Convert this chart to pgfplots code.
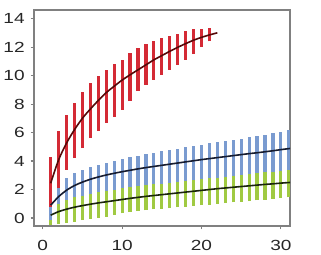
\documentclass[border=0pt]{standalone}
\usepackage{pgfplots}
\pgfplotsset{compat=1.18}
\usepackage{pgfplotstable}
\usepackage{fontspec}
\setmainfont{Liberation Sans}
\definecolor{rbar}{HTML}{D42A35}
\definecolor{bbar}{HTML}{7A9BD0}
\definecolor{gbar}{HTML}{A0CA42}
\definecolor{rcur}{HTML}{560808}
\definecolor{bcur}{HTML}{161C30}
\definecolor{gcur}{HTML}{1A250C}
\definecolor{axgray}{HTML}{808080}

% error bars: each bar is a pair of rows (x lo, x hi) followed by a break
\pgfplotstableread{
x y
1 0.8
1 4.3
1 nan
2 2.1
2 6.1
2 nan
3 3.4
3 7.25
3 nan
4 4.2
4 8.1
4 nan
5 4.9
5 8.85
5 nan
6 5.6
6 9.45
6 nan
7 6.1
7 9.95
7 nan
8 6.7
8 10.4
8 nan
9 7.1
9 10.8
9 nan
10 7.6
10 11.1
10 nan
11 8.2
11 11.6
11 nan
12 8.9
12 11.95
12 nan
13 9.35
13 12.2
13 nan
14 9.7
14 12.4
14 nan
15 10.05
15 12.6
15 nan
16 10.4
16 12.8
16 nan
17 10.75
17 12.95
17 nan
18 11.1
18 13.1
18 nan
19 11.5
19 13.25
19 nan
20 12.0
20 13.3
20 nan
21 12.4
21 13.35
}\redbars

\pgfplotstableread{
x y
1 2.44
2 4.08
3 5.26
4 6.2
5 7.0
6 7.65
7 8.25
8 8.8
9 9.25
10 9.68
11 10.05
12 10.4
13 10.75
14 11.1
15 11.4
16 11.7
17 11.98
18 12.24
19 12.48
20 12.68
21 12.85
22 13.0
}\redcurve

\pgfplotstableread{
x y
1 -0.14
1 1.5
1 nan
2 0.95
2 2.3
2 nan
3 1.3
3 2.8
3 nan
4 1.45
4 3.15
4 nan
5 1.58
5 3.38
5 nan
6 1.7
6 3.57
6 nan
7 1.8
7 3.72
7 nan
8 1.9
8 3.87
8 nan
9 2.0
9 4.0
9 nan
10 2.08
10 4.13
10 nan
11 2.16
11 4.25
11 nan
12 2.24
12 4.37
12 nan
13 2.3
13 4.48
13 nan
14 2.36
14 4.58
14 nan
15 2.42
15 4.67
15 nan
16 2.48
16 4.76
16 nan
17 2.54
17 4.85
17 nan
18 2.6
18 4.95
18 nan
19 2.66
19 5.05
19 nan
20 2.72
20 5.15
20 nan
21 2.78
21 5.25
21 nan
22 2.84
22 5.33
22 nan
23 2.9
23 5.42
23 nan
24 2.96
24 5.5
24 nan
25 3.02
25 5.58
25 nan
26 3.08
26 5.66
26 nan
27 3.14
27 5.75
27 nan
28 3.2
28 5.85
28 nan
29 3.26
29 5.95
29 nan
30 3.32
30 6.05
30 nan
31 3.38
31 6.15
}\bluebars

\pgfplotstableread{
x y
1 0.9
2 1.5
3 1.95
4 2.28
5 2.52
6 2.72
7 2.88
8 3.02
9 3.14
10 3.25
11 3.35
12 3.45
13 3.54
14 3.62
15 3.7
16 3.78
17 3.86
18 3.94
19 4.02
20 4.1
21 4.17
22 4.24
23 4.31
24 4.38
25 4.45
26 4.52
27 4.58
28 4.65
29 4.72
30 4.8
31 4.87
32 4.94
}\bluecurve

\pgfplotstableread{
x y
1 -0.5
1 -0.14
1 nan
2 -0.42
2 0.95
2 nan
3 -0.35
3 1.3
3 nan
4 -0.26
4 1.45
4 nan
5 -0.15
5 1.58
5 nan
6 -0.06
6 1.7
6 nan
7 0.02
7 1.8
7 nan
8 0.1
8 1.9
8 nan
9 0.2
9 2.0
9 nan
10 0.32
10 2.08
10 nan
11 0.42
11 2.16
11 nan
12 0.48
12 2.24
12 nan
13 0.54
13 2.3
13 nan
14 0.6
14 2.36
14 nan
15 0.65
15 2.42
15 nan
16 0.7
16 2.48
16 nan
17 0.75
17 2.54
17 nan
18 0.8
18 2.6
18 nan
19 0.85
19 2.66
19 nan
20 0.9
20 2.72
20 nan
21 0.94
21 2.78
21 nan
22 0.99
22 2.84
22 nan
23 1.04
23 2.9
23 nan
24 1.09
24 2.96
24 nan
25 1.14
25 3.02
25 nan
26 1.19
26 3.08
26 nan
27 1.24
27 3.14
27 nan
28 1.29
28 3.2
28 nan
29 1.34
29 3.26
29 nan
30 1.4
30 3.32
30 nan
31 1.45
31 3.38
}\greenbars

\pgfplotstableread{
x y
1 0.2
2 0.45
3 0.62
4 0.76
5 0.87
6 0.97
7 1.06
8 1.14
9 1.22
10 1.3
11 1.38
12 1.45
13 1.52
14 1.58
15 1.64
16 1.7
17 1.76
18 1.82
19 1.88
20 1.94
21 2.0
22 2.06
23 2.11
24 2.16
25 2.21
26 2.26
27 2.31
28 2.36
29 2.4
30 2.45
31 2.49
32 2.53
}\greencurve

\begin{document}
\begin{tikzpicture}
\useasboundingbox (-25.5pt,-21pt) rectangle (215.25pt,169.5pt);
\begin{axis}[
  at={(0,0)}, anchor=south west,
  scale only axis, width=192pt, height=162pt,
  xmin=-1.1, xmax=31.15, ymin=-0.56, ymax=14.6,
  xtick={0,10,20,30}, ytick={0,2,4,6,8,10,12,14},
  tick align=outside, xtick pos=bottom, ytick pos=left,
  major tick length=2.5pt,
  axis line style={axgray, line width=0.8pt},
  every tick/.style={axgray, line width=0.8pt},
  tick label style={font=\fontsize{11}{13}\selectfont, text=black!85},
  xticklabel={\scalebox{1.3}[1]{\pgfmathprintnumber[assume math mode=true]{\tick}}},
  yticklabel={\scalebox{1.3}[1]{\pgfmathprintnumber[assume math mode=true]{\tick}}},
  xticklabel style={yshift=-5pt},
  yticklabel style={xshift=-1pt},
  unbounded coords=jump,
]
\addplot[line width=2.4pt, bbar, mark=none] table[x=x, y=y] {\bluebars};
\addplot[line width=2.4pt, gbar, mark=none] table[x=x, y=y] {\greenbars};
\addplot[line width=2.4pt, rbar, mark=none] table[x=x, y=y] {\redbars};
\addplot[smooth, line width=1.2pt, bcur, mark=none] table[x=x, y=y] {\bluecurve};
\addplot[smooth, line width=1.2pt, gcur, mark=none] table[x=x, y=y] {\greencurve};
\addplot[smooth, line width=1.2pt, rcur, mark=none] table[x=x, y=y] {\redcurve};
\end{axis}
\end{tikzpicture}
\end{document}
